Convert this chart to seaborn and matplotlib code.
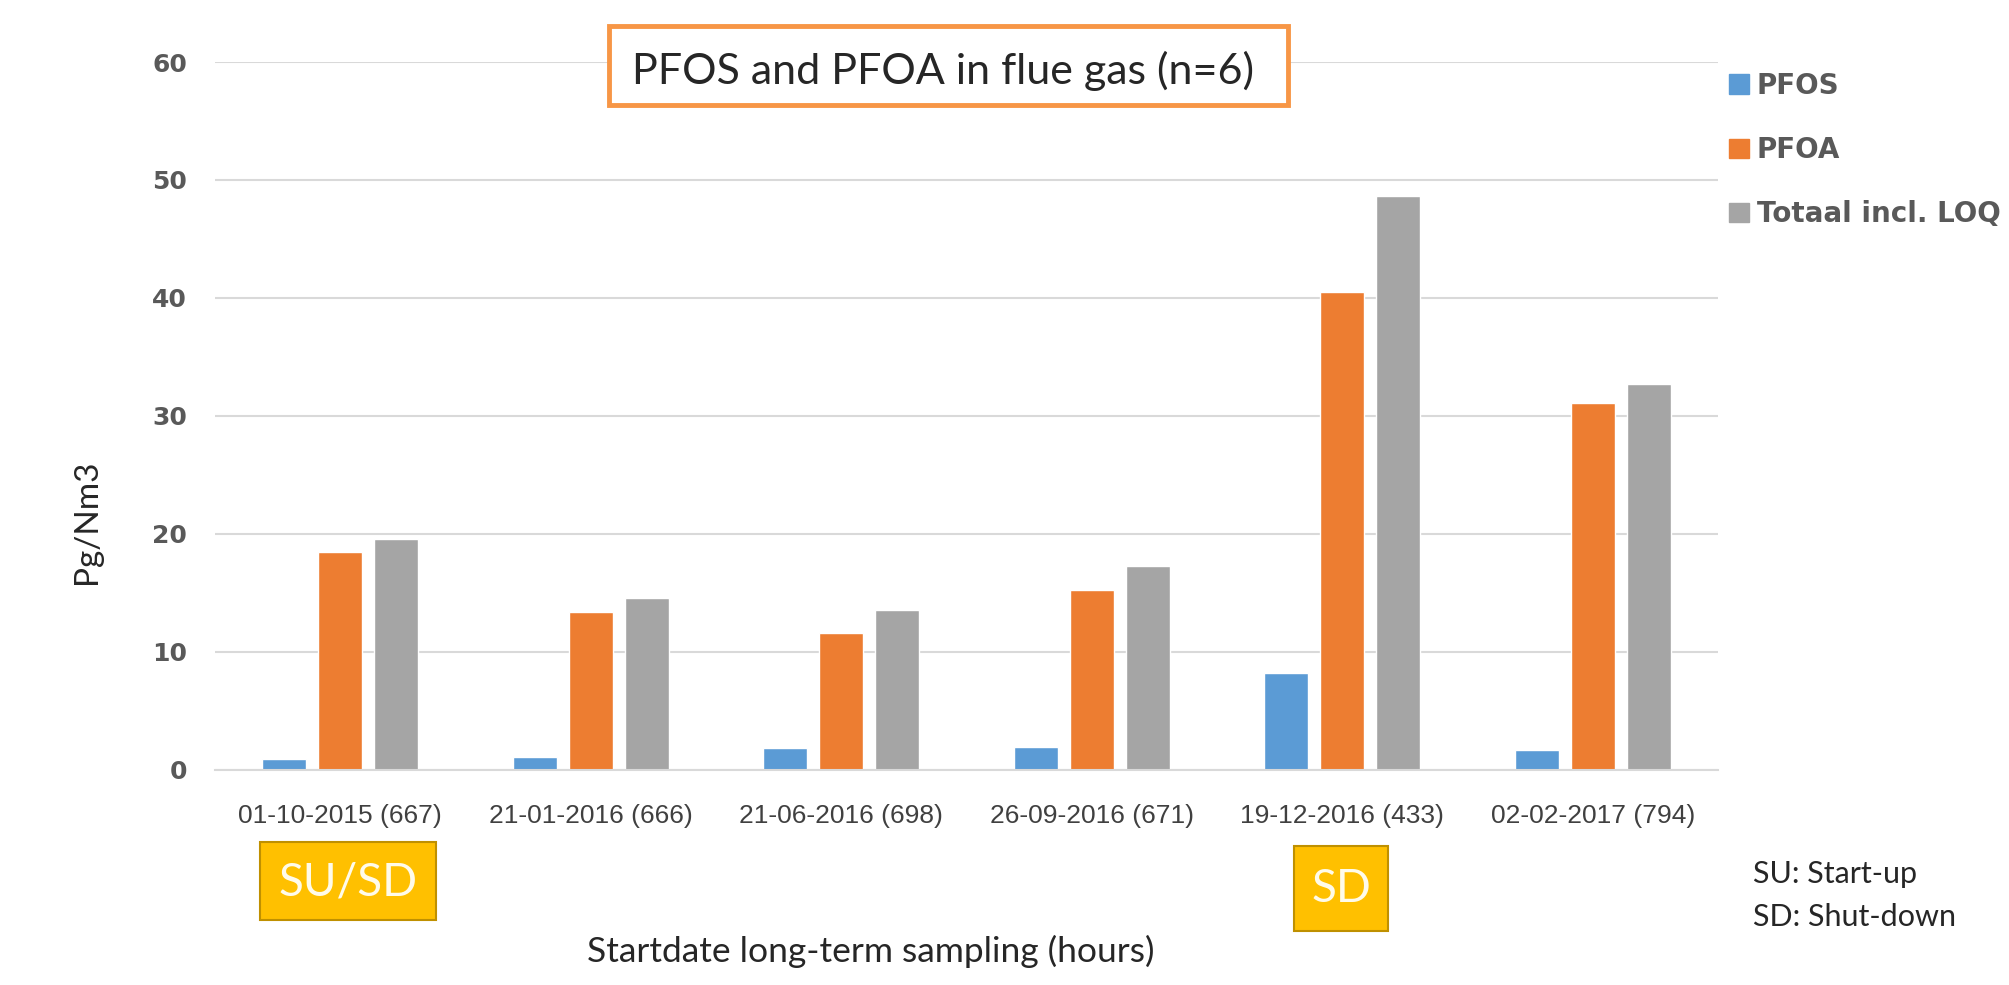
import matplotlib
matplotlib.use("Agg")
import matplotlib.pyplot as plt
from matplotlib.patches import Rectangle
import pandas as pd
import seaborn as sns

# Data
categories = ['01-10-2015 (667)', '21-01-2016 (666)', '21-06-2016 (698)',
              '26-09-2016 (671)', '19-12-2016 (433)', '02-02-2017 (794)']
series_names = ['PFOS', 'PFOA', 'Totaal incl. LOQ']
pfos = [0.9, 1.05, 1.8, 1.95, 8.2, 1.65]
pfoa = [18.45, 13.4, 11.6, 15.2, 40.5, 31.1]
total = [19.55, 14.55, 13.55, 17.25, 48.65, 32.7]
y_ticks = [0, 10, 20, 30, 40, 50, 60]
colors = ['#5B9BD5', '#ED7D31', '#A5A5A5']

df = pd.DataFrame({
    'date': categories * 3,
    'series': [series_names[0]] * 6 + [series_names[1]] * 6 + [series_names[2]] * 6,
    'value': pfos + pfoa + total,
})

sns.set_style("white")
W, H = 2009, 985
fig = plt.figure(figsize=(W / 100, H / 100), dpi=100)
fig.patch.set_facecolor('white')

ax = fig.add_axes([215 / W, 1 - 769.6 / H, 1503 / W, (769.6 - 62) / H])
sns.barplot(data=df, x='date', y='value', hue='series', order=categories,
            hue_order=series_names, palette=colors, width=0.67, gap=0.22,
            saturation=1, ax=ax, legend=False)

ax.set_ylim(0, 60)
ax.set_yticks(y_ticks)
ax.set_xlim(-0.5, len(categories) - 0.5)
ax.set_xlabel('')
ax.set_ylabel('')
ax.yaxis.grid(True, color='#d9d9d9', linewidth=1.5)
ax.set_axisbelow(True)
for s in ['top', 'right', 'left']:
    ax.spines[s].set_visible(False)
ax.spines['bottom'].set_color('#d9d9d9')
ax.spines['bottom'].set_linewidth(1.5)

ax.tick_params(axis='both', length=0)
ax.tick_params(axis='y', pad=20)
ax.tick_params(axis='x', pad=25)
for lab in ax.get_yticklabels():
    lab.set_fontfamily('DejaVu Sans')
    lab.set_fontweight('bold')
    lab.set_fontsize(18)
    lab.set_color('#595959')
for lab in ax.get_xticklabels():
    lab.set_fontfamily('Liberation Sans')
    lab.set_fontsize(19)
    lab.set_color('#404040')

# legend on the right, clipped by the figure edge
handles = [Rectangle((0, 0), 1, 1, color=c) for c in colors]
fig.legend(handles, series_names, loc='upper left',
           bbox_to_anchor=(1729 / W, 1 - 72 / H), frameon=False,
           prop={'family': 'DejaVu Sans', 'weight': 'bold', 'size': 20},
           labelcolor='#595959', handlelength=0.72, handleheight=0.72,
           handletextpad=0.28, labelspacing=1.3, borderpad=0, borderaxespad=0)

# title box
fig.patches.append(Rectangle((609 / W, 1 - 105 / H), 679 / W, 79 / H,
                             transform=fig.transFigure, facecolor='white',
                             edgecolor='#F79646', linewidth=3.5, zorder=5))
fig.text(943 / W, 1 - 71 / H, 'PFOS and PFOA in flue gas (n=6)',
         ha='center', va='center', fontsize=31, family='Lato', zorder=6)

# SU/SD marker boxes
fig.patches.append(Rectangle((260 / W, 1 - 920 / H), 176 / W, 78 / H,
                             transform=fig.transFigure, facecolor='#FFC000',
                             edgecolor='#BF9000', linewidth=1.5, zorder=5))
fig.text(348 / W, 1 - 882 / H, 'SU/SD', ha='center', va='center',
         fontsize=33, family='Lato', color='#FFFBEA', zorder=6)
fig.patches.append(Rectangle((1294 / W, 1 - 931 / H), 94 / W, 85 / H,
                             transform=fig.transFigure, facecolor='#FFC000',
                             edgecolor='#BF9000', linewidth=1.5, zorder=5))
fig.text(1341 / W, 1 - 889 / H, 'SD', ha='center', va='center',
         fontsize=33, family='Lato', color='#FFFBEA', zorder=6)

# axis titles
fig.text(871 / W, 1 - 951 / H, 'Startdate long-term sampling (hours)',
         ha='center', va='center', fontsize=25.5, family='Lato')
fig.text(87 / W, 1 - 522 / H, 'Pg/Nm3', ha='center', va='center',
         rotation=90, fontsize=24, family='Lato')

# notes
fig.text(1753 / W, 1 - 874 / H, 'SU: Start-up', ha='left', va='center',
         fontsize=22, family='Lato')
fig.text(1753 / W, 1 - 917 / H, 'SD: Shut-down', ha='left', va='center',
         fontsize=22, family='Lato')

fig.savefig('out.png', dpi=100)
